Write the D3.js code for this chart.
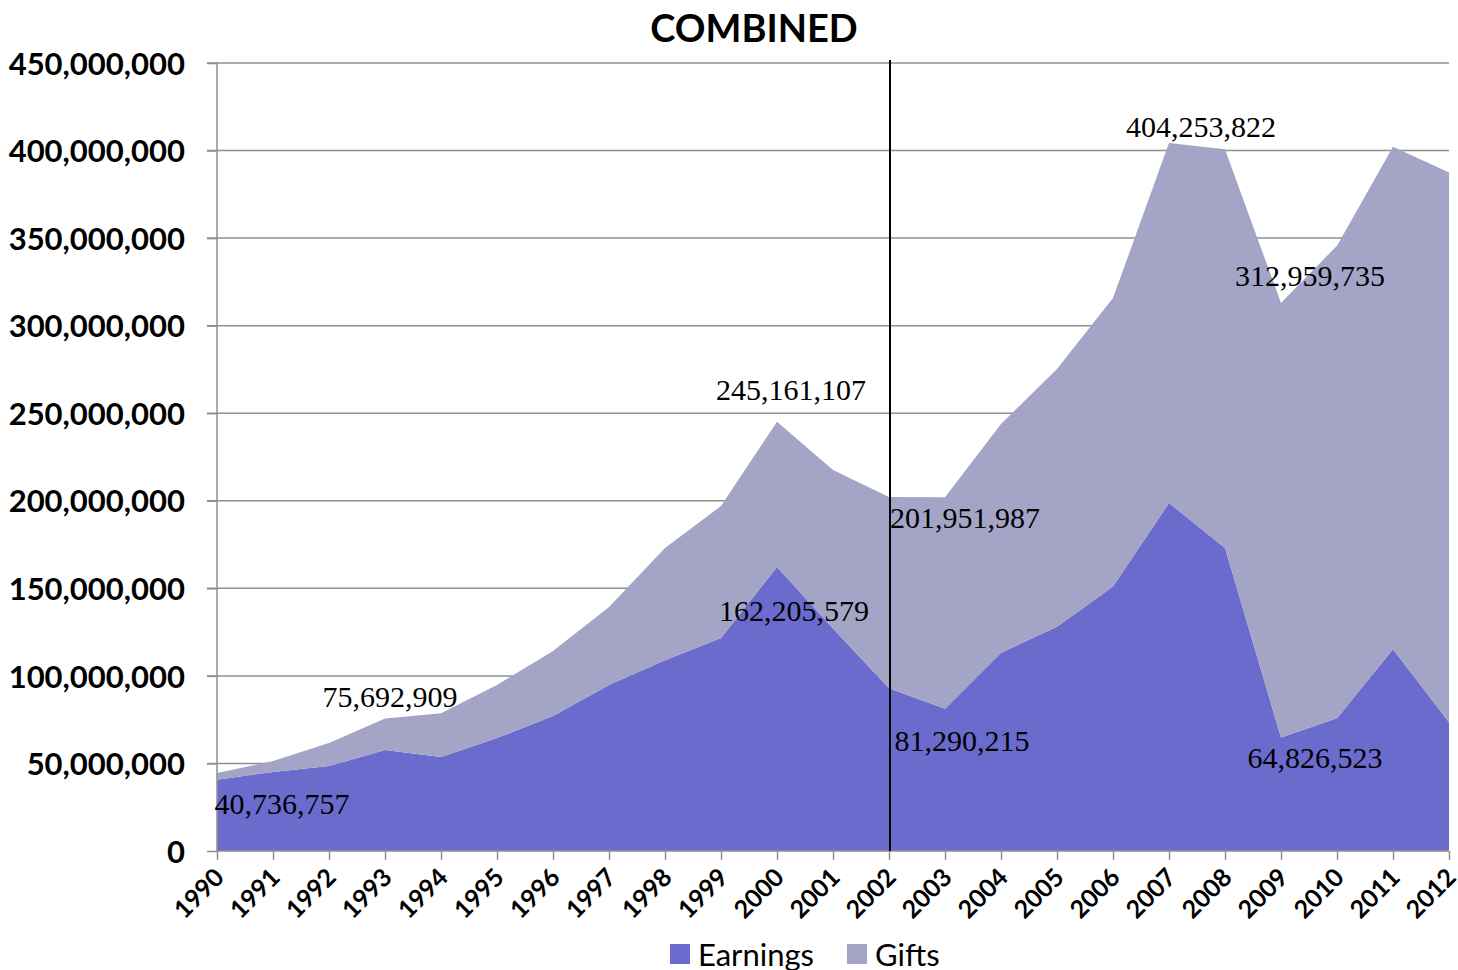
<!DOCTYPE html>
<html>
<head>
<meta charset="utf-8">
<script src="https://cdn.jsdelivr.net/npm/d3@7"></script>
<style>
  body { margin: 0; background: #fff; }
  svg { display: block; }
  .grid line { stroke: #8f8f8f; stroke-width: 1.5; }
  .axis path, .axis line { stroke: #8f8f8f; stroke-width: 1.5; }
  .ylab { font-family: Lato, sans-serif; font-weight: bold; font-size: 31px; fill: #000; }
  .xlab { font-family: Lato, sans-serif; font-weight: bold; font-size: 25px; fill: #000; }
  .dlabel { font-family: "Liberation Serif", serif; font-size: 30px; fill: #000; }
</style>
</head>
<body>
<svg id="chart" width="1458" height="970"></svg>
<script>
var years = [1990, 1991, 1992, 1993, 1994, 1995, 1996, 1997, 1998, 1999, 2000, 2001,
  2002, 2003, 2004, 2005, 2006, 2007, 2008, 2009, 2010, 2011, 2012];

var earnings = [40736757, 45100000, 48500000, 57700000, 53700000, 64500000, 77100000,
  94800000, 109000000, 121600000, 162205579, 127000000, 93000000, 81290215, 113200000,
  128000000, 151000000, 198700000, 173000000, 64826523, 75800000, 115200000, 73500000];

var gifts = [3800000, 6300000, 13200000, 17992909, 24900000, 30300000, 37100000,
  44500000, 64000000, 75400000, 82955528, 90600000, 109200000, 120661772, 130600000,
  147300000, 164800000, 205553822, 227700000, 248133212, 269900000, 287000000, 313900000];

var seriesNames = ["Earnings", "Gifts"];
var yTicks = [0, 50000000, 100000000, 150000000, 200000000, 250000000, 300000000,
  350000000, 400000000, 450000000];

// which points get a value label: [year, series]
var labelPoints = [[1990, "Earnings"], [1993, "Total"], [2000, "Total"], [2000, "Earnings"],
  [2003, "Total"], [2003, "Earnings"], [2007, "Total"], [2009, "Total"], [2009, "Earnings"]];
// label offsets from the point (layout only)
var labelOffsets = [[65, 34], [5, -11], [14, -22], [17, 54], [20, 31], [17, 42],
  [32, -6], [29, -17], [34, 31]];

var colors = { Earnings: "#6b6bcd", Gifts: "#a4a4c6" };

var svg = d3.select("#chart");
var plotL = 217, plotR = 1449, plotT = 63, plotB = 851;

var x = d3.scaleLinear().domain([1990, 2012]).range([plotL, plotR]);
var y = d3.scaleLinear().domain([0, 450000000]).range([plotB, plotT]);

var table = years.map(function(yr, i) {
  return { year: yr, Earnings: earnings[i], Gifts: gifts[i] };
});
var stacked = d3.stack().keys(seriesNames)(table);

// title
svg.append("text")
  .attr("x", 754).attr("y", 42)
  .attr("text-anchor", "middle")
  .style("font-family", "Lato, sans-serif")
  .style("font-weight", "bold")
  .style("font-size", "38px")
  .text("COMBINED");

// gridlines
svg.append("g")
  .attr("class", "grid")
  .selectAll("line")
  .data(yTicks.slice(1))
  .enter()
  .append("line")
  .attr("x1", plotL - 10).attr("x2", plotR)
  .attr("y1", function(d) { return y(d); })
  .attr("y2", function(d) { return y(d); });

// areas
var area = d3.area()
  .x(function(d) { return x(d.data.year); })
  .y0(function(d) { return y(d[0]); })
  .y1(function(d) { return y(d[1]); });

svg.selectAll("path.area")
  .data(stacked)
  .enter()
  .append("path")
  .attr("class", "area")
  .attr("fill", function(d) { return colors[d.key]; })
  .attr("d", area);

// y axis
var yAxis = svg.append("g")
  .attr("class", "axis")
  .attr("transform", "translate(" + plotL + ",0)")
  .call(d3.axisLeft(y).tickValues(yTicks).tickSize(10).tickFormat(d3.format(",")));
yAxis.select(".domain").attr("d", "M0," + plotT + "V" + plotB);
yAxis.selectAll("text").attr("class", "ylab").attr("x", -32).attr("dy", "0.36em");

// x axis
var xAxis = svg.append("g")
  .attr("class", "axis")
  .attr("transform", "translate(0," + plotB + ")")
  .call(d3.axisBottom(x).tickValues(years).tickSize(9).tickFormat(d3.format("d")));
xAxis.select(".domain").attr("d", "M" + plotL + ",0H" + plotR);
xAxis.selectAll("text")
  .attr("class", "xlab")
  .attr("text-anchor", "end")
  .attr("dy", null)
  .attr("y", 0)
  .attr("transform", "translate(8,28) rotate(-45)");

// vertical marker at 2002
svg.append("line")
  .attr("x1", x(2002) + 1).attr("x2", x(2002) + 1)
  .attr("y1", 60).attr("y2", plotB)
  .attr("stroke", "#000").attr("stroke-width", 2);

// data labels
var fmt = d3.format(",");
labelPoints.forEach(function(p, k) {
  var i = years.indexOf(p[0]);
  var v = p[1] === "Earnings" ? earnings[i] : earnings[i] + gifts[i];
  svg.append("text")
    .attr("class", "dlabel")
    .attr("text-anchor", "middle")
    .attr("x", x(p[0]) + labelOffsets[k][0])
    .attr("y", y(v) + labelOffsets[k][1])
    .text(fmt(v));
});

// legend
var legend = svg.append("g").attr("transform", "translate(670,944)");
var lx = [0, 177];
seriesNames.forEach(function(name, i) {
  legend.append("rect")
    .attr("x", lx[i]).attr("y", 0)
    .attr("width", 20).attr("height", 20)
    .attr("fill", colors[name]);
  legend.append("text")
    .attr("x", lx[i] + 28).attr("y", 22)
    .style("font-family", "Lato, sans-serif")
    .style("font-size", "31px")
    .text(name);
});
</script>
</body>
</html>
